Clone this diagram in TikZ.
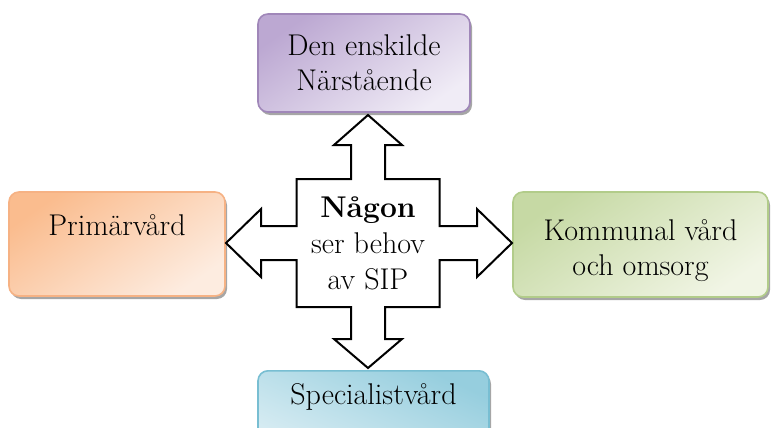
\documentclass[tikz,border=0pt]{standalone}
\usetikzlibrary{positioning,shadows}
\definecolor{lilakant}{RGB}{160,135,185}
\definecolor{lilamork}{RGB}{188,168,210}
\definecolor{lilaljus}{RGB}{240,236,246}
\definecolor{orangekant}{RGB}{246,178,132}
\definecolor{orangemork}{RGB}{250,188,142}
\definecolor{orangeljus}{RGB}{253,236,224}
\definecolor{gronkant}{RGB}{178,204,138}
\definecolor{gronmork}{RGB}{198,217,164}
\definecolor{gronljus}{RGB}{241,245,229}
\definecolor{blakant}{RGB}{120,190,210}
\definecolor{blamork}{RGB}{150,206,222}
\definecolor{blaljus}{RGB}{226,241,246}
\begin{document}
\begin{tikzpicture}[
			x=0.5pt,y=-0.5pt,
			ruta/.style={
				draw,
				rounded corners=5pt,
				line width=0.8pt,
				align=center,
				font=\fontsize{15}{17.5}\selectfont,
				drop shadow={shadow xshift=1pt,shadow yshift=-1.5pt,opacity=.35,fill=black}
			},
			lila/.style={ruta,draw=lilakant,top color=lilamork,bottom color=lilaljus,shading angle=35},
			orange/.style={ruta,draw=orangekant,top color=orangemork,bottom color=orangeljus,shading angle=35},
			gron/.style={ruta,draw=gronkant,top color=gronmork,bottom color=gronljus,shading angle=35},
			bla/.style={ruta,draw=blakant,top color=blamork,bottom color=blaljus,shading angle=-25},
			kors/.style={
				draw=black,
				fill=white,
				line width=1pt,
				line join=miter
			},
			mitt/.style={
				align=center,
				font=\fontsize{15}{18}\selectfont
			}
			]
			
			\useasboundingbox (0,0) rectangle (771,428);
			
			% Boxes
			\node[lila, minimum width=106pt, minimum height=49pt] (narstaende) at (364,63) {Den enskilde\\Närstående};
			\node[orange, minimum width=108pt, minimum height=52pt, text height=10pt, text depth=19pt] (primarvard) at (117,244) {Primärvård};
			\node[gron, minimum width=127.5pt, minimum height=52.5pt] (kommunal) at (640.5,244.5) {\rule{0pt}{17pt}Kommunal vård\\och omsorg};
			\node[bla, anchor=north, minimum width=115.5pt, inner ysep=7pt, text height=10pt, text depth=30pt] (specialist) at (373.5,370) {Specialistvård};
			
			% Cross with four arrows
			\begin{scope}[shift={(368,243)}]
				\draw[kors] (0,-128) -- (34,-98) -- (17,-98) -- (17,-64) -- (71.5,-64) -- (71.5,-17)
					-- (109,-17) -- (109,-34) -- (144,0) -- (109,34) -- (109,17) -- (71.5,17)
					-- (71.5,64) -- (17,64) -- (17,96) -- (34,96) -- (0,125) -- (-34,96)
					-- (-17,96) -- (-17,64) -- (-71.5,64) -- (-71.5,17) -- (-107,17) -- (-107,34)
					-- (-142,0) -- (-107,-34) -- (-107,-17) -- (-71.5,-17) -- (-71.5,-64) -- (-17,-64)
					-- (-17,-98) -- (-34,-98) -- cycle;
			\end{scope}
			\node[mitt] (behov) at (368,243) {\textbf{Någon}\\ser behov\\av SIP};
			
		\end{tikzpicture}
\end{document}
